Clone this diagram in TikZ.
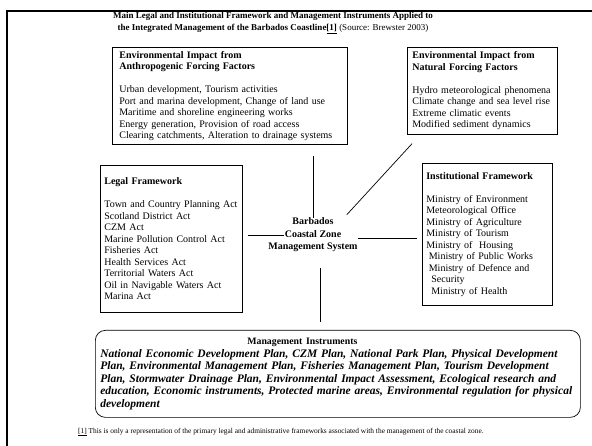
\documentclass[tikz,border=0pt]{standalone}
\usepackage{fontspec}
\setmainfont{Liberation Serif}
\usepackage{tikz}

\begin{document}
\begin{tikzpicture}[x=1pt, y=-1pt,
    box/.style={draw, line width=0.7pt, anchor=north west, align=left,
      inner ysep=3.5pt, font=\fontsize{10}{11.5}\selectfont},
    hub/.style={align=center, inner sep=0pt,
      font=\fontsize{10}{12.5}\selectfont\bfseries},
    link/.style={line width=0.7pt}]
    \useasboundingbox (0, 0) rectangle (592, 446);
    % frame
    \draw [line width=2.6pt] (7, 446) -- (7, 11) -- (592, 11);
    % title
    \node[align=center, font=\fontsize{9}{12}\selectfont](title) at (273, 23){%
      \textbf{Main Legal and Institutional Framework and Management Instruments Applied to}\\
      \textbf{the Integrated Management of the Barbados Coastline\underline{[1]}} (Source: Brewster 2003)};

    % anthropogenic factors
    \node[box, text width=221pt, inner xsep=7pt, minimum height=97pt](anthro) at (112, 47){%
      \textbf{Environmental Impact from}\\
      \textbf{Anthropogenic Forcing Factors}\\[11.5pt]
      Urban development, Tourism activities\\
      Port and marina development, Change of land use\\
      Maritime and shoreline engineering works\\
      Energy generation, Provision of road access\\
      Clearing catchments, Alteration to drainage systems};
    % natural factors
    \node[box, text width=140pt, inner xsep=5pt, minimum height=87pt](natural) at (407, 47){%
      \textbf{Environmental Impact from}\\
      \textbf{Natural Forcing Factors}\\[11.5pt]
      Hydro meteorological phenomena\\
      Climate change and sea level rise\\
      Extreme climatic events\\
      Modified sediment dynamics};
    % legal framework
    \node[box, text width=134pt, inner xsep=4pt, minimum height=147pt](legal) at (100, 165){%
      \textbf{Legal Framework}\\[11.5pt]
      Town and Country Planning Act\\
      Scotland District Act\\
      CZM Act\\
      Marine Pollution Control Act\\
      Fisheries Act\\
      Health Services Act\\
      Territorial Waters Act\\
      Oil in Navigable Waters Act\\
      Marina Act\\[8pt]};
    % institutional framework
    \node[box, text width=122pt, inner xsep=4pt, minimum height=142pt](inst) at (422, 163){%
      \textbf{Institutional Framework}\\[11.5pt]
      Ministry of Environment\\
      Meteorological Office\\
      Ministry of Agriculture\\
      Ministry of Tourism\\
      Ministry of\ \ Housing\\
      \hspace*{2.5pt}Ministry of Public Works\\
      \hspace*{2.5pt}Ministry of Defence and\\
      \hspace*{5pt}Security\\
      \hspace*{5pt}Ministry of Health};

    % the system
    \node[hub](sys) at (313, 235){Barbados\\ Coastal Zone\\ Management System};

    % management instruments
    \node[box, rounded corners=10pt, text width=475pt, inner xsep=5pt,
      minimum height=87pt, font=\fontsize{11.5}{12.5}\selectfont](instr) at (95, 330){%
      \hspace*{147pt}{\fontsize{9.8}{12}\selectfont\textbf{Management Instruments}}\\
      \textbf{\textit{National Economic Development Plan, CZM Plan, National Park Plan, Physical Development}}\\
      \textbf{\textit{Plan, Environmental Management Plan, Fisheries Management Plan, Tourism Development}}\\
      \textbf{\textit{Plan, Stormwater Drainage Plan, Environmental Impact Assessment, Ecological research and}}\\
      \textbf{\textit{education, Economic instruments, Protected marine areas, Environmental regulation for physical}}\\
      \textbf{\textit{development}}};

    % links
    \draw [link, shorten <=11pt] (anthro.south -| sys.north) -- (sys.north);
    \draw [link] ([xshift=5pt, yshift=-9pt]natural.south west)
      -- ([xshift=-11pt, yshift=3pt]sys.north east);
    \draw [link, shorten <=5pt] (legal.east |- sys.west) -- ([xshift=16pt]sys.west);
    \draw [link, shorten >=5pt] ([yshift=-3pt]sys.east) -- ([yshift=-3pt]sys.east -| inst.west);
    \draw [link, shorten <=16pt, shorten >=8pt] ([xshift=7pt]sys.south)
      -- ([xshift=7pt]sys.south |- instr.north);

    % footnote
    \node[anchor=west, inner sep=0pt, font=\fontsize{7.4}{8}\selectfont](note) at (78, 432){%
      \underline{[1]} This is only a representation of the primary legal and administrative frameworks associated with the management of the coastal zone.};
  \end{tikzpicture}
\end{document}
